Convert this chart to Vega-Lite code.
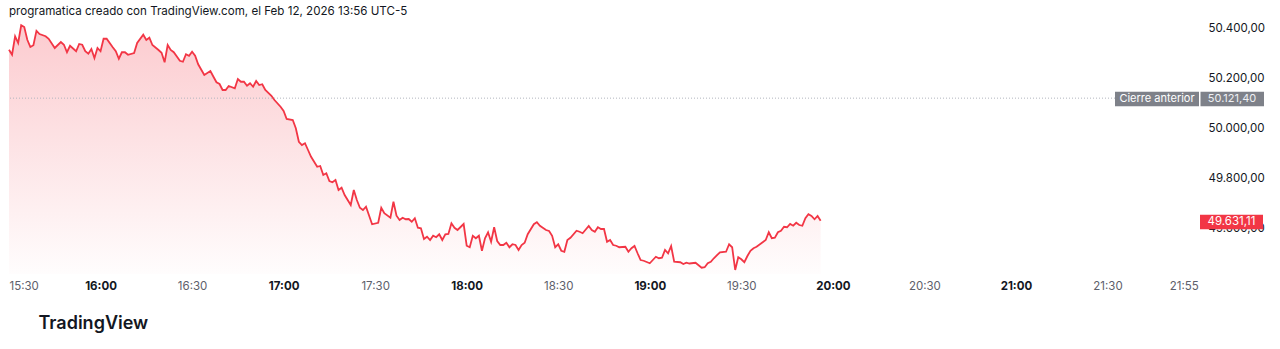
{
  "$schema": "https://vega.github.io/schema/vega-lite/v6.json",
  "width": 1190,
  "height": 252,
  "autosize": {"type": "none"},
  "padding": {"left": 9, "top": 22, "right": 81, "bottom": 75},
  "background": "white",
  "title": {
    "text": "programatica creado con TradingView.com, el Feb 12, 2026 13:56 UTC-5",
    "anchor": "start",
    "frame": "group",
    "fontSize": 11.6,
    "fontWeight": "normal",
    "font": "Inter",
    "color": "#131722",
    "offset": 4
  },
  "config": {
    "view": {"stroke": null},
    "font": "Inter",
    "axis": {"grid": false, "domain": false, "ticks": false}
  },
  "data": {
    "values": [
      {"t":"15:30","v":50315},{"t":"15:31","v":50295},{"t":"15:32","v":50369},{"t":"15:33","v":50342},{"t":"15:34","v":50413},
      {"t":"15:35","v":50406},{"t":"15:36","v":50355},{"t":"15:37","v":50326},{"t":"15:38","v":50333},{"t":"15:39","v":50391},
      {"t":"15:40","v":50378},{"t":"15:42","v":50369},{"t":"15:43","v":50359},{"t":"15:45","v":50322},{"t":"15:47","v":50346},
      {"t":"15:48","v":50335},{"t":"15:49","v":50305},{"t":"15:50","v":50331},{"t":"15:52","v":50309},{"t":"15:53","v":50338},
      {"t":"15:54","v":50335},{"t":"15:55","v":50309},{"t":"15:56","v":50299},{"t":"15:57","v":50318},{"t":"15:58","v":50282},
      {"t":"15:59","v":50322},{"t":"16:00","v":50309},{"t":"16:01","v":50359},{"t":"16:02","v":50359},{"t":"16:04","v":50325},
      {"t":"16:05","v":50309},{"t":"16:06","v":50279},{"t":"16:07","v":50305},{"t":"16:08","v":50305},{"t":"16:09","v":50295},
      {"t":"16:11","v":50302},{"t":"16:12","v":50342},{"t":"16:14","v":50375},{"t":"16:15","v":50354},{"t":"16:16","v":50363},
      {"t":"16:17","v":50334},{"t":"16:19","v":50314},{"t":"16:20","v":50303},{"t":"16:21","v":50265},{"t":"16:22","v":50334},
      {"t":"16:23","v":50314},{"t":"16:24","v":50305},{"t":"16:26","v":50271},{"t":"16:27","v":50267},{"t":"16:28","v":50297},
      {"t":"16:29","v":50291},{"t":"16:30","v":50307},{"t":"16:31","v":50291},{"t":"16:32","v":50257},{"t":"16:34","v":50214},
      {"t":"16:36","v":50230},{"t":"16:37","v":50207},{"t":"16:38","v":50185},{"t":"16:39","v":50178},{"t":"16:40","v":50154},
      {"t":"16:41","v":50154},{"t":"16:42","v":50170},{"t":"16:44","v":50161},{"t":"16:45","v":50198},{"t":"16:46","v":50187},
      {"t":"16:47","v":50187},{"t":"16:48","v":50171},{"t":"16:49","v":50181},{"t":"16:50","v":50167},{"t":"16:51","v":50190},
      {"t":"16:52","v":50174},{"t":"16:53","v":50177},{"t":"16:54","v":50154},{"t":"16:56","v":50131},{"t":"16:57","v":50114},
      {"t":"16:59","v":50087},{"t":"17:00","v":50070},{"t":"17:01","v":50038},{"t":"17:03","v":50034},{"t":"17:04","v":50001},
      {"t":"17:05","v":49947},{"t":"17:06","v":49934},{"t":"17:07","v":49941},{"t":"17:08","v":49914},{"t":"17:09","v":49887},
      {"t":"17:11","v":49847},{"t":"17:12","v":49850},{"t":"17:13","v":49814},{"t":"17:14","v":49821},{"t":"17:15","v":49790},
      {"t":"17:16","v":49785},{"t":"17:17","v":49794},{"t":"17:18","v":49754},{"t":"17:19","v":49763},{"t":"17:20","v":49734},
      {"t":"17:22","v":49694},{"t":"17:23","v":49754},{"t":"17:24","v":49714},{"t":"17:25","v":49683},{"t":"17:26","v":49674},
      {"t":"17:27","v":49687},{"t":"17:29","v":49617},{"t":"17:31","v":49623},{"t":"17:32","v":49683},{"t":"17:33","v":49661},
      {"t":"17:35","v":49643},{"t":"17:36","v":49707},{"t":"17:37","v":49651},{"t":"17:38","v":49634},{"t":"17:39","v":49643},
      {"t":"17:40","v":49637},{"t":"17:41","v":49638},{"t":"17:42","v":49627},{"t":"17:43","v":49641},{"t":"17:44","v":49603},
      {"t":"17:45","v":49601},{"t":"17:46","v":49558},{"t":"17:47","v":49567},{"t":"17:48","v":49554},{"t":"17:49","v":49571},
      {"t":"17:50","v":49565},{"t":"17:51","v":49577},{"t":"17:52","v":49554},{"t":"17:53","v":49577},{"t":"17:54","v":49578},
      {"t":"17:55","v":49621},{"t":"17:56","v":49603},{"t":"17:57","v":49594},{"t":"17:59","v":49618},{"t":"18:00","v":49531},
      {"t":"18:01","v":49525},{"t":"18:02","v":49571},{"t":"18:03","v":49561},{"t":"18:04","v":49571},{"t":"18:05","v":49511},
      {"t":"18:06","v":49561},{"t":"18:07","v":49585},{"t":"18:08","v":49547},{"t":"18:09","v":49605},{"t":"18:10","v":49550},
      {"t":"18:11","v":49534},{"t":"18:12","v":49534},{"t":"18:13","v":49543},{"t":"18:14","v":49525},{"t":"18:15","v":49537},
      {"t":"18:16","v":49534},{"t":"18:17","v":49514},{"t":"18:18","v":49534},{"t":"18:19","v":49543},{"t":"18:20","v":49577},
      {"t":"18:22","v":49617},{"t":"18:23","v":49625},{"t":"18:24","v":49611},{"t":"18:26","v":49594},{"t":"18:27","v":49590},
      {"t":"18:28","v":49571},{"t":"18:29","v":49525},{"t":"18:30","v":49537},{"t":"18:31","v":49511},{"t":"18:32","v":49507},
      {"t":"18:33","v":49554},{"t":"18:34","v":49563},{"t":"18:36","v":49591},{"t":"18:37","v":49587},{"t":"18:38","v":49581},
      {"t":"18:40","v":49610},{"t":"18:41","v":49594},{"t":"18:42","v":49587},{"t":"18:43","v":49605},{"t":"18:44","v":49598},
      {"t":"18:45","v":49598},{"t":"18:46","v":49547},{"t":"18:47","v":49554},{"t":"18:48","v":49534},{"t":"18:49","v":49531},
      {"t":"18:50","v":49525},{"t":"18:52","v":49527},{"t":"18:53","v":49507},{"t":"18:54","v":49521},{"t":"18:55","v":49530},
      {"t":"18:56","v":49501},{"t":"18:57","v":49474},{"t":"18:58","v":49471},{"t":"19:00","v":49461},{"t":"19:01","v":49474},
      {"t":"19:02","v":49487},{"t":"19:03","v":49481},{"t":"19:04","v":49483},{"t":"19:05","v":49514},{"t":"19:06","v":49501},
      {"t":"19:07","v":49530},{"t":"19:08","v":49467},{"t":"19:10","v":49465},{"t":"19:11","v":49458},{"t":"19:12","v":49463},
      {"t":"19:13","v":49460},{"t":"19:15","v":49463},{"t":"19:17","v":49443},{"t":"19:18","v":49445},{"t":"19:19","v":49461},
      {"t":"19:20","v":49467},{"t":"19:21","v":49481},{"t":"19:23","v":49505},{"t":"19:25","v":49507},{"t":"19:26","v":49537},
      {"t":"19:27","v":49525},{"t":"19:28","v":49434},{"t":"19:29","v":49485},{"t":"19:30","v":49477},{"t":"19:31","v":49465},
      {"t":"19:32","v":49490},{"t":"19:33","v":49511},{"t":"19:34","v":49521},{"t":"19:35","v":49527},{"t":"19:37","v":49545},
      {"t":"19:38","v":49554},{"t":"19:39","v":49585},{"t":"19:40","v":49561},{"t":"19:41","v":49563},{"t":"19:42","v":49585},
      {"t":"19:43","v":49591},{"t":"19:44","v":49607},{"t":"19:45","v":49605},{"t":"19:46","v":49618},{"t":"19:47","v":49611},
      {"t":"19:48","v":49623},{"t":"19:49","v":49614},{"t":"19:50","v":49611},{"t":"19:51","v":49641},{"t":"19:52","v":49657},
      {"t":"19:53","v":49650},{"t":"19:54","v":49637},{"t":"19:55","v":49650},{"t":"19:56","v":49631.11}
    ],
    "format": {"parse": {"t": "utc:'%H:%M'"}}
  },
  "layer": [
    {
      "mark": {
        "type": "area",
        "fill": {
          "gradient": "linear", "x1": 0, "y1": 0, "x2": 0, "y2": 1,
          "stops": [
            {"offset": 0, "color": "rgba(242,54,69,0.26)"},
            {"offset": 1, "color": "rgba(242,54,69,0.01)"}
          ]
        }
      },
      "encoding": {
        "x": {
          "field": "t", "type": "temporal",
          "scale": {
            "type": "utc",
            "domain": [
              {"year": 1900, "month": 1, "date": 1, "hours": 15, "minutes": 30, "utc": true},
              {"year": 1900, "month": 1, "date": 1, "hours": 22, "minutes": 0, "utc": true}
            ]
          },
          "axis": {
            "title": "TradingView",
            "titleFont": "Inter",
            "titleFontSize": 18,
            "titleFontWeight": 600,
            "titleColor": "#131722",
            "titleAnchor": "start",
            "titleAlign": "left",
            "titleBaseline": "middle",
            "titleX": 29,
            "titleY": 49,
            "values": [
              {"year": 1900, "month": 1, "date": 1, "hours": 15, "minutes": 30, "utc": true},
              {"year": 1900, "month": 1, "date": 1, "hours": 16, "minutes": 0, "utc": true},
              {"year": 1900, "month": 1, "date": 1, "hours": 16, "minutes": 30, "utc": true},
              {"year": 1900, "month": 1, "date": 1, "hours": 17, "minutes": 0, "utc": true},
              {"year": 1900, "month": 1, "date": 1, "hours": 17, "minutes": 30, "utc": true},
              {"year": 1900, "month": 1, "date": 1, "hours": 18, "minutes": 0, "utc": true},
              {"year": 1900, "month": 1, "date": 1, "hours": 18, "minutes": 30, "utc": true},
              {"year": 1900, "month": 1, "date": 1, "hours": 19, "minutes": 0, "utc": true},
              {"year": 1900, "month": 1, "date": 1, "hours": 19, "minutes": 30, "utc": true},
              {"year": 1900, "month": 1, "date": 1, "hours": 20, "minutes": 0, "utc": true},
              {"year": 1900, "month": 1, "date": 1, "hours": 20, "minutes": 30, "utc": true},
              {"year": 1900, "month": 1, "date": 1, "hours": 21, "minutes": 0, "utc": true},
              {"year": 1900, "month": 1, "date": 1, "hours": 21, "minutes": 30, "utc": true},
              {"year": 1900, "month": 1, "date": 1, "hours": 21, "minutes": 55, "utc": true}
            ],
            "labelExpr": "utcFormat(datum.value, '%H:%M')",
            "labelFlush": true,
            "labelOverlap": false,
            "labelPadding": 6,
            "labelFontSize": 11.5,
            "labelFontWeight": {"condition": {"test": "utcminutes(datum.value) === 0", "value": "bold"}, "value": "normal"},
            "labelColor": {"condition": {"test": "utcminutes(datum.value) === 0", "value": "#131722"}, "value": "#5d606b"}
          }
        },
        "y": {
          "field": "v", "type": "quantitative",
          "scale": {"domain": [49418, 50426], "zero": false, "nice": false},
          "axis": {
            "title": null,
            "orient": "right",
            "values": [49600, 49800, 50000, 50200, 50400],
            "labelExpr": "replace(replace(replace(format(datum.value, ',.2f'), ',', '#'), '.', ','), '#', '.')",
            "labelAlign": "left",
            "labelPadding": 9,
            "labelFontSize": 11.5,
            "labelColor": "#131722"
          }
        },
        "y2": {"datum": 49418}
      }
    },
    {
      "mark": {"type": "line", "color": "#f23645", "strokeWidth": 1.8},
      "encoding": {
        "x": {"field": "t", "type": "temporal"},
        "y": {"field": "v", "type": "quantitative"}
      }
    },
    {
      "data": {"values": [{"label": "Cierre anterior", "v": 50121.4, "txt": "50.121,40"}]},
      "layer": [
        {
          "mark": {"type": "rule", "color": "#b2b5be", "strokeWidth": 1, "strokeDash": [1, 2]},
          "encoding": {"y": {"field": "v", "type": "quantitative"}}
        },
        {
          "mark": {"type": "rect", "color": "#7e8189", "xOffset": -84, "yOffset": -6.5, "y2Offset": 8},
          "encoding": {
            "x": {"value": "width"}, "x2": {"value": "width"},
            "y": {"field": "v", "type": "quantitative"}, "y2": {"field": "v"}
          }
        },
        {
          "mark": {"type": "rect", "color": "#7e8189", "xOffset": 1.5, "x2Offset": 65, "yOffset": -6.5, "y2Offset": 8},
          "encoding": {
            "x": {"value": "width"}, "x2": {"value": "width"},
            "y": {"field": "v", "type": "quantitative"}, "y2": {"field": "v"}
          }
        },
        {
          "mark": {"type": "text", "color": "white", "fontSize": 11, "align": "center", "baseline": "middle", "dx": -42, "dy": 1},
          "encoding": {
            "x": {"value": "width"},
            "y": {"field": "v", "type": "quantitative"},
            "text": {"field": "label"}
          }
        },
        {
          "mark": {"type": "text", "color": "#eef0f4", "fontSize": 11, "align": "center", "baseline": "middle", "dx": 33, "dy": 1},
          "encoding": {
            "x": {"value": "width"},
            "y": {"field": "v", "type": "quantitative"},
            "text": {"field": "txt"}
          }
        }
      ]
    },
    {
      "data": {"values": [{"v": 49631.11, "txt": "49.631,11"}]},
      "layer": [
        {
          "mark": {"type": "rect", "color": "#f23645", "xOffset": 1, "x2Offset": 64, "yOffset": -6, "y2Offset": 8.5},
          "encoding": {
            "x": {"value": "width"}, "x2": {"value": "width"},
            "y": {"field": "v", "type": "quantitative"}, "y2": {"field": "v"}
          }
        },
        {
          "mark": {"type": "text", "color": "white", "fontSize": 11.5, "align": "center", "baseline": "middle", "dx": 32.5, "dy": 1},
          "encoding": {
            "x": {"value": "width"},
            "y": {"field": "v", "type": "quantitative"},
            "text": {"field": "txt"}
          }
        }
      ]
    }
  ]
}
